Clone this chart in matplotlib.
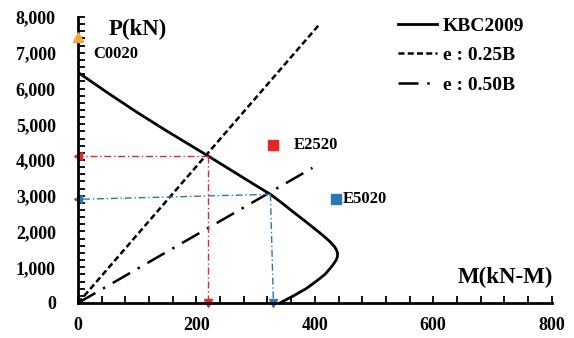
import matplotlib.pyplot as plt
from matplotlib.ticker import MultipleLocator, FuncFormatter

plt.rcParams['font.family'] = ['Liberation Serif', 'DejaVu Serif']
plt.rcParams['font.weight'] = 'bold'

# KBC2009 interaction curve (M, P)
kbc_m = [0, 50, 100, 150, 200, 220, 260, 300, 325, 345, 364, 382, 398, 413,
         426, 433, 437, 438.5, 438, 436, 432, 427, 417, 403, 386, 364, 341]
kbc_p = [6450, 5880, 5330, 4810, 4310, 4110, 3700, 3290, 3040, 2790, 2540,
         2310, 2100, 1900, 1710, 1580, 1470, 1380, 1290, 1200, 1100, 990, 800,
         615, 410, 200, 0]

# eccentricity lines
e25_m = [0, 408]
e25_p = [0, 7800]
e50_m = [0, 396]
e50_p = [0, 3780]

# test points
pts_name = ['C0020', 'E2520', 'E5020']
pts_m = [0, 329, 435]
pts_p = [7450, 4420, 2900]
pts_color = ['#f2a93b', '#e8262a', '#2e75b6']
pts_marker = ['^', 's', 's']

# guide lines (intersections)
red_m = [220, 0]
red_p = [4110, 4110]
red_vm = [220, 220]
red_vp = [4110, 0]
blue_m = [325, 0]
blue_p = [3040, 2900]
blue_vm = [325, 330]
blue_vp = [3040, 0]

fig = plt.figure(figsize=(5.74, 3.38), dpi=100)
ax = fig.add_axes([0.136, 0.1036, 0.825, 0.846])

ax.plot(kbc_m, kbc_p, color='black', lw=2, label='KBC2009', solid_joinstyle='round')
ax.plot(e25_m, e25_p, color='black', lw=1.8, linestyle=(0, (2.4, 1.3)), label='e : 0.25B')
ax.plot(e50_m, e50_p, color='black', lw=1.8, linestyle=(0, (8, 3.5, 1, 3.5)), label='e : 0.50B')

gl = (0, (5, 2, 1, 2))
ax.plot(red_m, red_p, color='#e8262a', lw=1, linestyle=gl)
ax.plot(red_vm, red_vp, color='#e8262a', lw=1, linestyle=gl)
ax.plot(blue_m, blue_p, color='#2e75b6', lw=1, linestyle=gl)
ax.plot(blue_vm, blue_vp, color='#2e75b6', lw=1, linestyle=gl)
ax.plot([red_m[-1]], [red_p[-1]], marker='<', color='#e8262a', ms=6, clip_on=False)
ax.plot([red_vm[-1]], [red_vp[-1]], marker='v', color='#e8262a', ms=6, clip_on=False)
ax.plot([blue_m[-1]], [blue_p[-1]], marker='<', color='#2e75b6', ms=6, clip_on=False)
ax.plot([blue_vm[-1]], [blue_vp[-1]], marker='v', color='#2e75b6', ms=6, clip_on=False)

for n, m, p, c, mk in zip(pts_name, pts_m, pts_p, pts_color, pts_marker):
    ax.plot([m], [p], marker=mk, color=c, ms=7, clip_on=False, zorder=5)

ax.text(25, 6960, 'C0020', fontsize=12, fontweight='bold', va='center', ha='left')
ax.text(364, 4420, 'E2520', fontsize=12, fontweight='bold', va='center', ha='left')
ax.text(448, 2900, 'E5020', fontsize=12, fontweight='bold', va='center', ha='left')
ax.text(51, 7640, 'P(kN)', fontsize=16.5, fontweight='bold', va='center', ha='left')
ax.text(803, 710, 'M(kN-M)', fontsize=16.5, fontweight='bold', va='center', ha='right')

ax.set_xlim(0, 800)
ax.set_ylim(0, 8000)
ax.xaxis.set_major_locator(MultipleLocator(200))
ax.xaxis.set_minor_locator(MultipleLocator(40))
ax.yaxis.set_major_locator(MultipleLocator(1000))
ax.yaxis.set_minor_locator(MultipleLocator(200))
ax.yaxis.set_major_formatter(FuncFormatter(lambda v, p: f'{int(v):,}'))
ax.tick_params(which='both', direction='in', length=5, width=1.3, labelsize=13)
ax.tick_params(axis='y', pad=16)
ax.tick_params(axis='x', pad=10)
for lab in ax.get_xticklabels() + ax.get_yticklabels():
    lab.set_fontweight('bold')
for s in ['top', 'right']:
    ax.spines[s].set_visible(False)
for s in ['left', 'bottom']:
    ax.spines[s].set_linewidth(2)

leg = ax.legend(loc='upper right', bbox_to_anchor=(0.979, 1.06), frameon=False,
                prop={'size': 14, 'weight': 'bold'}, handlelength=2.0,
                handletextpad=0.3, labelspacing=0.6)

plt.savefig('out.png', dpi=100)
